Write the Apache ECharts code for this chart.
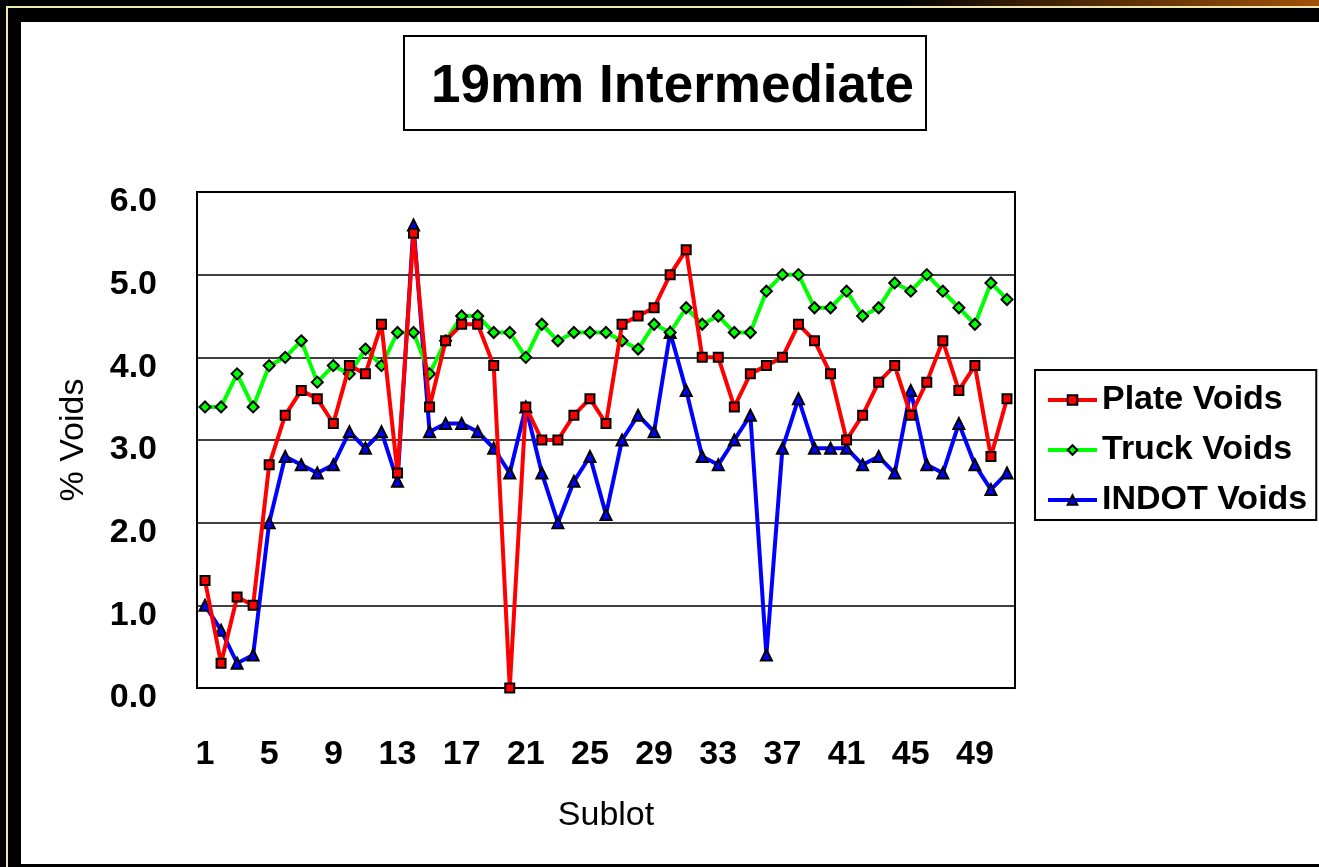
<!DOCTYPE html>
<html>
<head>
<meta charset="utf-8">
<title>19mm Intermediate</title>
<script src="https://cdn.jsdelivr.net/npm/echarts@6/dist/echarts.min.js"></script>
<style>
    html, body {margin: 0; padding: 0; background: #000;}
    #chartDiv {width: 1319px; height: 867px;}
</style>
</head>
<body>
<div id="chartDiv"></div>
<script>
// sublot numbers 1..51
var sublots = ["1", "2", "3", "4", "5", "6", "7", "8", "9", "10",
    "11", "12", "13", "14", "15", "16", "17", "18", "19", "20",
    "21", "22", "23", "24", "25", "26", "27", "28", "29", "30",
    "31", "32", "33", "34", "35", "36", "37", "38", "39", "40",
    "41", "42", "43", "44", "45", "46", "47", "48", "49", "50", "51"];

var plateVoids = [1.3, 0.3, 1.1, 1.0, 2.7, 3.3, 3.6, 3.5, 3.2, 3.9, 3.8, 4.4, 2.6,
    5.5, 3.4, 4.2, 4.4, 4.4, 3.9, 0.0, 3.4, 3.0, 3.0, 3.3, 3.5, 3.2,
    4.4, 4.5, 4.6, 5.0, 5.3, 4.0, 4.0, 3.4, 3.8, 3.9, 4.0, 4.4, 4.2, 3.8,
    3.0, 3.3, 3.7, 3.9, 3.3, 3.7, 4.2, 3.6, 3.9, 2.8, 3.5];

var truckVoids = [3.4, 3.4, 3.8, 3.4, 3.9, 4.0, 4.2, 3.7, 3.9, 3.8, 4.1, 3.9, 4.3,
    4.3, 3.8, 4.2, 4.5, 4.5, 4.3, 4.3, 4.0, 4.4, 4.2, 4.3, 4.3, 4.3,
    4.2, 4.1, 4.4, 4.3, 4.6, 4.4, 4.5, 4.3, 4.3, 4.8, 5.0, 5.0, 4.6, 4.6,
    4.8, 4.5, 4.6, 4.9, 4.8, 5.0, 4.8, 4.6, 4.4, 4.9, 4.7];

var indotVoids = [1.0, 0.7, 0.3, 0.4, 2.0, 2.8, 2.7, 2.6, 2.7, 3.1, 2.9, 3.1, 2.5,
    5.6, 3.1, 3.2, 3.2, 3.1, 2.9, 2.6, 3.4, 2.6, 2.0, 2.5, 2.8, 2.1,
    3.0, 3.3, 3.1, 4.3, 3.6, 2.8, 2.7, 3.0, 3.3, 0.4, 2.9, 3.5, 2.9, 2.9,
    2.9, 2.7, 2.8, 2.6, 3.6, 2.7, 2.6, 3.2, 2.7, 2.4, 2.6];

var font = "'Liberation Sans', Arial, sans-serif";

/*
 * slide frame around the chart
 * */
function frameGraphics() {
    return [
        {type: 'rect', z: -10, silent: true, shape: {x: 0, y: 0, width: 1319, height: 6},
            style: {fill: new echarts.graphic.LinearGradient(0, 0, 1, 0, [
                {offset: 0, color: '#000000'},
                {offset: 0.68, color: '#000000'},
                {offset: 0.78, color: '#3a1e06'},
                {offset: 1, color: '#a0520a'}
            ])}},
        {type: 'rect', z: -10, silent: true, shape: {x: 6, y: 6, width: 1313, height: 2},
            style: {fill: '#efe6b0'}},
        {type: 'rect', z: -10, silent: true, shape: {x: 6, y: 6, width: 2, height: 861},
            style: {fill: '#efe6b0'}},
        {type: 'rect', z: -10, silent: true, shape: {x: 21, y: 22, width: 1298, height: 842},
            style: {fill: '#ffffff'}}
    ];
}

function drawChart() {
    var chartDiv = document.getElementById("chartDiv");
    var chart = echarts.init(chartDiv, null, {renderer: 'canvas'});

    var option = {
        backgroundColor: '#000000',
        animation: false,
        graphic: frameGraphics(),
        title: {
            text: '19mm Intermediate',
            left: 404,
            top: 36,
            padding: [25, 12, 16, 27],
            borderColor: '#000',
            borderWidth: 2,
            textStyle: {fontFamily: font, fontSize: 53, fontWeight: 'bold', color: '#000'}
        },
        legend: {
            orient: 'vertical',
            left: 1035,
            top: 370,
            padding: [10, 9, 0, 11],
            borderColor: '#000',
            borderWidth: 2,
            itemWidth: 49,
            itemHeight: 12,
            itemGap: 10,
            lineStyle: {width: 4},
            data: ['Plate Voids', 'Truck Voids', 'INDOT Voids'],
            textStyle: {fontFamily: font, fontSize: 34, fontWeight: 'bold', color: '#000', lineHeight: 40}
        },
        grid: {
            left: 197,
            right: 304,
            top: 192,
            bottom: 179,
            show: true,
            backgroundColor: '#fff',
            borderColor: '#000',
            borderWidth: 2
        },
        xAxis: {
            type: 'category',
            data: sublots,
            boundaryGap: true,
            name: 'Sublot',
            nameLocation: 'middle',
            nameGap: 111,
            nameTextStyle: {fontFamily: font, fontSize: 34, color: '#000'},
            axisLine: {lineStyle: {color: '#000', width: 2}},
            axisTick: {show: false},
            axisLabel: {
                interval: 3,
                margin: 50,
                fontFamily: font,
                fontSize: 34,
                fontWeight: 'bold',
                color: '#000'
            }
        },
        yAxis: {
            type: 'value',
            min: 0,
            max: 6,
            interval: 1,
            name: '% Voids',
            nameLocation: 'middle',
            nameGap: 106,
            nameRotate: 90,
            nameTextStyle: {fontFamily: font, fontSize: 34, color: '#000'},
            axisLine: {show: true, lineStyle: {color: '#000', width: 2}},
            axisTick: {show: false},
            splitLine: {lineStyle: {color: '#000', width: 1.5}},
            axisLabel: {
                margin: 40,
                color: '#000',
                // labels sit a little below their grid line in the original
                formatter: function (v) {
                    return '{v|' + v.toFixed(1) + '}';
                },
                rich: {
                    v: {
                        fontFamily: font,
                        fontSize: 34,
                        fontWeight: 'bold',
                        color: '#000',
                        padding: [20, 0, 0, 0]
                    }
                }
            }
        },
        series: [
            {
                name: 'Plate Voids',
                type: 'line',
                z: 5,
                data: plateVoids,
                symbol: 'rect',
                symbolSize: 9,
                showAllSymbol: true,
                lineStyle: {color: '#ff0000', width: 4},
                itemStyle: {color: '#ff0000', borderColor: '#000', borderWidth: 2}
            },
            {
                name: 'Truck Voids',
                type: 'line',
                z: 4,
                data: truckVoids,
                symbol: 'diamond',
                symbolSize: 11,
                showAllSymbol: true,
                lineStyle: {color: '#00ff00', width: 4},
                itemStyle: {color: '#00ff00', borderColor: '#000', borderWidth: 2}
            },
            {
                name: 'INDOT Voids',
                type: 'line',
                z: 3,
                data: indotVoids,
                symbol: 'triangle',
                symbolSize: 11,
                showAllSymbol: true,
                lineStyle: {color: '#0000ff', width: 4},
                itemStyle: {color: '#0000ff', borderColor: '#000', borderWidth: 2}
            }
        ]
    };
    chart.setOption(option);
}

drawChart();
</script>
</body>
</html>
